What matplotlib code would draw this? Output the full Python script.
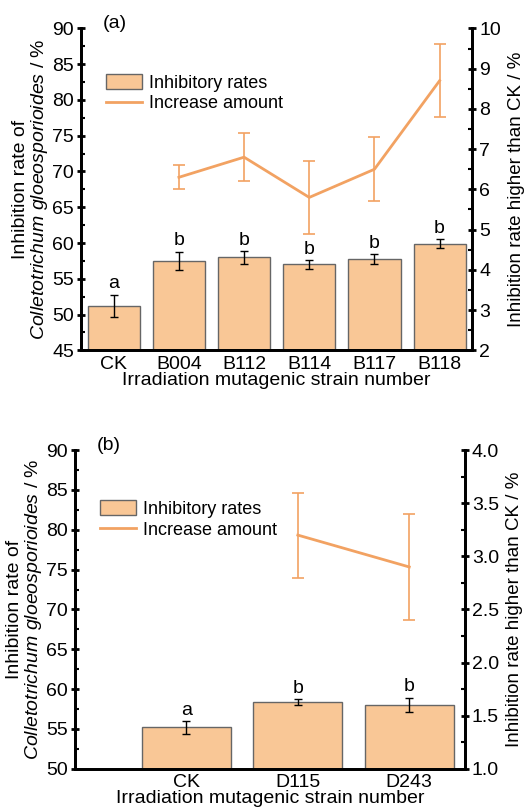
import matplotlib.pyplot as plt
import numpy as np

plt.rcParams['font.family'] = ['Liberation Sans', 'DejaVu Sans']
plt.rcParams['mathtext.fontset'] = 'custom'
plt.rcParams['mathtext.rm'] = 'Liberation Sans'
plt.rcParams['mathtext.it'] = 'Liberation Sans:italic'

# panel (a)
strains_a = ['CK', 'B004', 'B112', 'B114', 'B117', 'B118']
rate_a = [51.2, 57.5, 58.0, 57.0, 57.7, 59.9]
rate_err_a = [1.6, 1.3, 0.9, 0.6, 0.7, 0.6]
letters_a = ['a', 'b', 'b', 'b', 'b', 'b']
inc_strains_a = ['B004', 'B112', 'B114', 'B117', 'B118']
inc_a = [6.3, 6.8, 5.8, 6.5, 8.7]
inc_err_a = [0.3, 0.6, 0.9, 0.8, 0.9]

# panel (b)
strains_b = ['CK', 'D115', 'D243']
rate_b = [55.2, 58.35, 58.05]
rate_err_b = [0.8, 0.4, 0.9]
letters_b = ['a', 'b', 'b']
inc_strains_b = ['D115', 'D243']
inc_b = [3.2, 2.9]
inc_err_b = [0.4, 0.5]

bar_col = '#F9C796'
line_col = '#F2A262'
fs = 14

fig = plt.figure(figsize=(5.27, 8.11), dpi=100)


def panel(rect, strains, rate, rate_err, letters, inc_strains, inc, inc_err,
          x0, xlim, ylim, y2lim, yticks, y2ticks, y2fmt, tag, leg_y):
    ax = fig.add_axes(rect)
    x = np.arange(len(strains)) + x0
    ax.bar(x, rate, width=0.8, color=bar_col, edgecolor='#666666', linewidth=1,
           label='Inhibitory rates', zorder=2)
    ax.errorbar(x, rate, yerr=rate_err, fmt='none', ecolor='black', elinewidth=1,
                capsize=3, capthick=1, zorder=3)
    for xi, r, e, l in zip(x, rate, rate_err, letters):
        ax.text(xi, r + e + 0.3, l, ha='center', va='bottom', fontsize=fs)
    ax.set_xlim(*xlim)
    ax.set_ylim(*ylim)
    ax.set_yticks(yticks)
    ax.set_yticks(np.arange(ylim[0], ylim[1] + 0.1, 2.5), minor=True)
    ax.set_xticks(x)
    ax.set_xticklabels(strains)
    ax.set_xlabel('Irradiation mutagenic strain number', fontsize=fs, labelpad=-1)
    ax.set_ylabel('Inhibition rate of\n$\\it{Colletotrichum\\ gloeosporioides}$ / %',
                  fontsize=fs, labelpad=2, linespacing=1.0)

    ax2 = ax.twinx()
    xi2 = [x[strains.index(s)] for s in inc_strains]
    ax2.plot(xi2, inc, color=line_col, linewidth=2, label='Increase amount')
    ax2.errorbar(xi2, inc, yerr=inc_err, fmt='none', ecolor=line_col,
                 elinewidth=1.2, capsize=4, capthick=1.2)
    ax2.set_ylim(*y2lim)
    ax2.set_yticks(y2ticks)
    ax2.set_yticklabels([y2fmt.format(v) for v in y2ticks])
    ax2.set_yticks(np.arange(y2lim[0], y2lim[1] + 0.01,
                             (y2ticks[1] - y2ticks[0]) / 2), minor=True)
    ax2.set_ylabel('Inhibition rate higher than CK / %', fontsize=13.5, labelpad=5)

    for a in (ax, ax2):
        a.spines['top'].set_visible(False)
        for s in ('left', 'right', 'bottom'):
            a.spines[s].set_linewidth(2)
        a.tick_params(axis='both', which='major', labelsize=fs, width=2, length=6,
                      direction='inout', pad=2)
        a.tick_params(axis='y', which='minor', width=1.5, length=3, direction='in')
    ax.tick_params(axis='x', direction='in', length=4, width=2, pad=4)

    h1, l1 = ax.get_legend_handles_labels()
    h2, l2 = ax2.get_legend_handles_labels()
    ax.legend(h1 + h2, l1 + l2, loc='upper left', bbox_to_anchor=(0.045, leg_y),
              frameon=False, fontsize=13, handlelength=2.0, handleheight=0.9,
              handletextpad=0.4, labelspacing=0.15, borderaxespad=0)
    ax.text(0.055, 1.015, tag, transform=ax.transAxes, fontsize=fs, va='center')


panel([0.154, 0.568, 0.742, 0.397], strains_a, rate_a, rate_err_a, letters_a,
      inc_strains_a, inc_a, inc_err_a, 0, (-0.5, 5.5), (45, 90), (2, 10),
      np.arange(45, 91, 5), list(range(2, 11)), '{:d}', '(a)', 0.88)

panel([0.1423, 0.052, 0.740, 0.393], strains_b, rate_b, rate_err_b, letters_b,
      inc_strains_b, inc_b, inc_err_b, 1, (0, 3.5), (50, 90), (1.0, 4.0),
      np.arange(50, 91, 5), [1.0, 1.5, 2.0, 2.5, 3.0, 3.5, 4.0], '{:.1f}', '(b)',
      0.865)

fig.savefig('out.png', dpi=100)
